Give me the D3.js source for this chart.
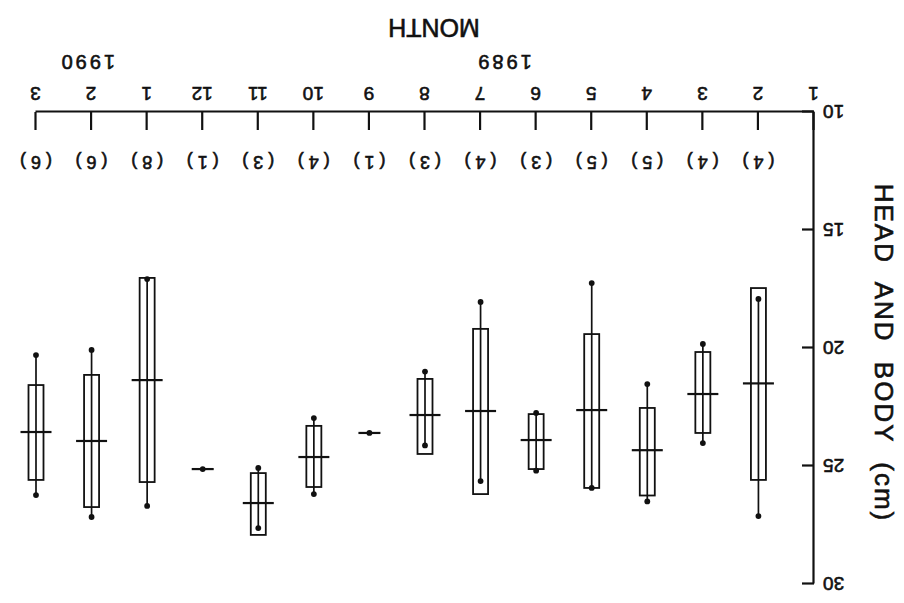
<!DOCTYPE html>
<html>
<head>
<meta charset="utf-8">
<script src="https://cdn.jsdelivr.net/npm/d3@7"></script>
<style>
  html, body { margin: 0; padding: 0; background: #fff; }
  svg { display: block; }
  text { font-family: "Liberation Sans", Arial, sans-serif; fill: #111; stroke: #111; stroke-width: 0.6px; }
</style>
</head>
<body>
<svg id="chart" width="904" height="603"></svg>
<script>
// ---- data ----
const monthLabels = ["1","2","3","4","5","6","7","8","9","10","11","12","1","2","3"];
const counts   = [null, 4, 4, 5, 5, 3, 4, 3, 1, 4, 3, 1, 8, 6, 6];
const means    = [null, 21.5, 21.95, 24.33, 22.63, 23.9, 22.67, 22.84, 23.6, 24.62, 26.57, 25.13, 21.36, 23.94, 23.56];
const boxLow   = [null, 17.46, 20.17, 22.54, 19.41, 22.8, 19.19, 21.31, null, 23.3, 25.3, null, 17.03, 21.14, 21.57];
const boxHigh  = [null, 25.59, 23.6, 26.25, 25.93, 25.13, 26.19, 24.49, null, 25.89, 27.92, null, 25.68, 26.74, 25.59];
const minVals  = [null, 17.92, 19.83, 21.53, 17.25, 22.75, 18.05, 21.0, 23.6, 22.97, 25.08, 25.13, 17.08, 20.08, 20.3];
const maxVals  = [null, 27.12, 24.03, 26.5, 25.93, 25.2, 25.64, 24.13, 23.6, 26.19, 27.63, 25.13, 26.69, 27.16, 26.23];
const yTicks   = [10, 15, 20, 25, 30];
const yearLabels = ["1989", "1990"];
const yearAt     = [5.56, 13.06];

// ---- layout ----
const W = 904, H = 603;
const svg = d3.select("#chart");
// the reference is printed upside down: draw normally, then turn by 180°
const g = svg.append("g").attr("transform", `rotate(180 ${W/2} ${H/2})`);

const x = d3.scaleLinear().domain([0, 14]).range([90, 868]);
const y = d3.scaleLinear().domain([10, 30]).range([491, 19]);

// x axis
const xAxis = d3.axisBottom(x)
  .tickValues(d3.range(0, 15))
  .tickFormat(i => monthLabels[i])
  .tickSizeInner(-18).tickSizeOuter(0).tickPadding(12);
const gx = g.append("g").attr("transform", `translate(0,${y(10)})`).call(xAxis);
gx.select(".domain").attr("stroke", "#111").attr("stroke-width", 2.2);
gx.selectAll(".tick line").attr("stroke", "#111").attr("stroke-width", 2.2);
gx.selectAll(".tick text").style("font-size", "19px").attr("fill", "#111")
  .style("font-family", "Liberation Sans, Arial, sans-serif");

// y axis
const yAxis = d3.axisLeft(y)
  .tickValues(yTicks)
  .tickFormat(d3.format("d"))
  .tickSizeInner(-12).tickSizeOuter(0).tickPadding(9);
const gy = g.append("g").attr("transform", `translate(${x(0)},0)`).call(yAxis);
gy.select(".domain").attr("stroke", "#111").attr("stroke-width", 2.2);
gy.selectAll(".tick line").attr("stroke", "#111").attr("stroke-width", 2.2);
gy.selectAll(".tick text").style("font-size", "19px").attr("fill", "#111")
  .style("font-family", "Liberation Sans, Arial, sans-serif");

// count labels
const idx = d3.range(0, 15).filter(i => counts[i] != null);
g.append("g").selectAll("text").data(idx).join("text")
  .attr("x", i => x(i) + 2.5)
  .attr("y", y(10) - 49)
  .attr("text-anchor", "middle")
  .attr("dominant-baseline", "middle")
  .style("font-size", "18px")
  .style("letter-spacing", "5px")
  .text(i => `(${counts[i]})`);

// year labels
g.append("g").selectAll("text").data(yearLabels).join("text")
  .attr("x", (d, k) => x(yearAt[k]) + 1.5)
  .attr("y", y(10) + 52)
  .attr("text-anchor", "middle")
  .attr("dominant-baseline", "middle")
  .style("font-size", "20px")
  .style("letter-spacing", "3px")
  .text(d => d);

// axis titles
g.append("text")
  .attr("x", 470).attr("y", 577)
  .attr("text-anchor", "middle").attr("dominant-baseline", "middle")
  .style("font-size", "25px")
  .text("MONTH");

g.append("text")
  .attr("transform", `translate(29,250) rotate(-90)`)
  .attr("text-anchor", "middle")
  .style("font-size", "26px")
  .style("letter-spacing", "2px")
  .style("word-spacing", "10px")
  .text("HEAD AND BODY (cm)");

// marks
const marks = g.append("g").attr("stroke", "#111").attr("fill", "none");
const boxW = 15, meanW = 31, singleW = 22;

// range lines
marks.selectAll("line.range").data(idx).join("line").attr("class", "range")
  .attr("x1", i => x(i)).attr("x2", i => x(i))
  .attr("y1", i => y(minVals[i])).attr("y2", i => y(maxVals[i]))
  .attr("stroke-width", 1.7);

// boxes
const boxIdx = idx.filter(i => boxLow[i] != null);
marks.selectAll("rect").data(boxIdx).join("rect")
  .attr("x", i => x(i) - boxW / 2)
  .attr("width", boxW)
  .attr("y", i => y(boxHigh[i]))
  .attr("height", i => y(boxLow[i]) - y(boxHigh[i]))
  .attr("stroke-width", 1.8);

// mean lines
marks.selectAll("line.mean").data(idx).join("line").attr("class", "mean")
  .attr("x1", i => x(i) - (boxLow[i] == null ? singleW : meanW) / 2)
  .attr("x2", i => x(i) + (boxLow[i] == null ? singleW : meanW) / 2)
  .attr("y1", i => y(means[i])).attr("y2", i => y(means[i]))
  .attr("stroke-width", 2.2);

// end dots
const dots = [];
idx.forEach(i => { dots.push([i, minVals[i]]); if (maxVals[i] !== minVals[i]) dots.push([i, maxVals[i]]); });
g.append("g").selectAll("circle").data(dots).join("circle")
  .attr("cx", d => x(d[0])).attr("cy", d => y(d[1]))
  .attr("r", 2.9).attr("fill", "#111");
</script>
</body>
</html>
